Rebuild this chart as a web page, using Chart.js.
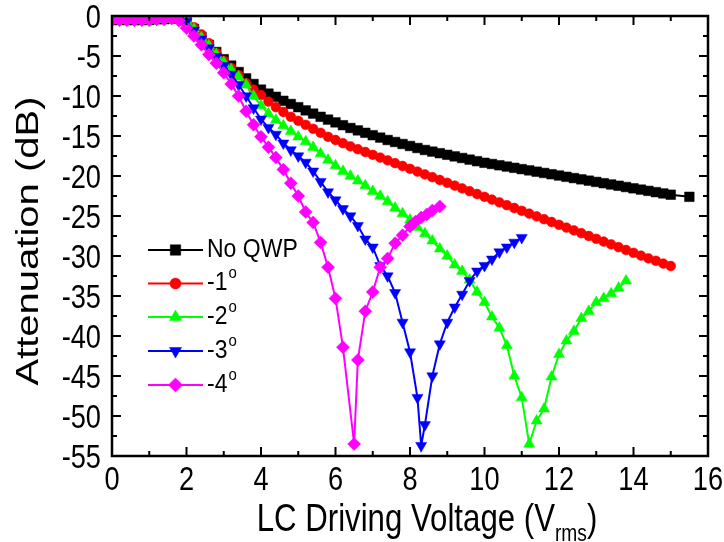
<!DOCTYPE html>
<html><head><meta charset="utf-8">
<script src="https://cdn.jsdelivr.net/npm/chart.js@4.4.1/dist/chart.umd.min.js"></script>
<style>html,body{margin:0;padding:0;background:#fff;}#wrap{width:724px;height:542px;}</style>
</head><body><div id="wrap"><canvas id="c" width="724" height="542"></canvas></div>
<script>
// ---- data ----
const voltage = [0,0.2,0.4,0.6,0.8,1,1.2,1.4,1.6,1.8,2,2.2,2.4,2.6,2.8,3,3.2,3.4,3.6,3.8,4,4.2,4.4,4.6,4.8,5,5.2,5.4,5.6,5.8,6,6.2,6.4,6.6,6.8,7,7.2,7.4,7.6,7.8,8,8.2,8.4,8.6,8.8,9,9.2,9.4,9.6,9.8,10,10.2,10.4,10.6,10.8,11,11.2,11.4,11.6,11.8,12,12.2,12.4,12.6,12.8,13,13.2,13.4,13.6,13.8,14,14.2,14.4,14.6,14.8,15];

const seriesNames = ['No QWP', '-1°', '-2°', '-3°', '-4°'];

const xNoQWP = [...voltage, 15.5];
const yNoQWP = [-0.5,-0.5,-0.5,-0.5,-0.5,-0.5,-0.4,-0.4,-0.3,-0.3,
 -0.6,-1.6,-2.6,-3.6,-4.5,-5.4,-6.2,-7.0,-7.8,-8.5,
 -9.2,-9.7,-10.1,-10.6,-11.0,-11.4,-11.8,-12.2,-12.6,-12.95,
 -13.3,-13.65,-14.0,-14.3,-14.6,-14.9,-15.2,-15.5,-15.75,-16.0,
 -16.25,-16.5,-16.75,-16.95,-17.15,-17.35,-17.55,-17.75,-17.95,-18.15,
 -18.35,-18.5,-18.66,-18.82,-18.98,-19.14,-19.3,-19.46,-19.62,-19.78,
 -19.94,-20.1,-20.26,-20.42,-20.58,-20.74,-20.9,-21.06,-21.22,-21.38,
 -21.54,-21.7,-21.86,-22.02,-22.18,-22.34,
 -22.6];

const xMinus1 = voltage;
const yMinus1 = [-0.5,-0.5,-0.5,-0.5,-0.5,-0.5,-0.4,-0.4,-0.3,-0.3,
 -0.5,-1.4,-2.3,-3.4,-4.6,-5.6,-6.5,-7.4,-8.4,-9.2,
 -9.9,-10.7,-11.4,-12.0,-12.6,-13.1,-13.6,-14.1,-14.6,-15.1,
 -15.5,-15.9,-16.3,-16.65,-17.0,-17.35,-17.7,-18.05,-18.4,-18.75,
 -19.1,-19.45,-19.8,-20.15,-20.5,-20.85,-21.2,-21.55,-21.9,-22.25,
 -22.6,-22.95,-23.3,-23.65,-24.0,-24.35,-24.7,-25.05,-25.4,-25.75,
 -26.1,-26.45,-26.8,-27.15,-27.5,-27.85,-28.2,-28.55,-28.9,-29.25,
 -29.6,-29.95,-30.3,-30.6,-30.95,-31.25];

const xMinus2 = voltage.slice(0, 70);
const yMinus2 = [-0.5,-0.5,-0.5,-0.5,-0.5,-0.5,-0.4,-0.4,-0.3,-0.3,
 -0.5,-1.6,-2.7,-3.7,-4.8,-5.8,-6.7,-7.6,-8.6,-10.0,
 -11.2,-12.2,-13.0,-13.7,-14.4,-15.1,-15.7,-16.4,-17.2,-18.0,
 -18.7,-19.4,-20.0,-20.6,-21.2,-21.9,-22.5,-23.2,-24.0,-24.7,
 -25.5,-26.4,-27.2,-28.1,-29.1,-30.0,-31.1,-31.9,-33.0,-34.5,
 -35.8,-37.6,-39.0,-41.2,-45.0,-47.7,-53.5,-50.6,-49.1,-45.1,
 -42.3,-40.6,-39.4,-37.8,-36.9,-35.8,-35.3,-34.7,-34.0,-33.1];

const xMinus3 = [...voltage.slice(0, 42), 8.3, ...voltage.slice(42, 56)];
const yMinus3 = [-0.5,-0.5,-0.5,-0.5,-0.5,-0.5,-0.4,-0.4,-0.3,-0.3,
 -0.7,-1.8,-2.9,-4.0,-5.1,-6.2,-7.3,-8.6,-10.0,-11.5,
 -12.9,-13.95,-14.8,-15.9,-16.75,-17.5,-18.3,-19.4,-20.7,-22.0,
 -23.0,-24.1,-25.0,-26.2,-27.9,-28.9,-31.2,-32.5,-34.6,-38.3,
 -42.0,-47.7,
 -53.7,
 -51.1,-45.0,-41.0,-38.3,-36.4,-34.8,-33.1,-31.9,-31.2,-30.4,-29.5,-28.9,-28.3,-27.7];

const xMinus4 = [...voltage.slice(0, 32), 6.5,6.6,6.8,7.0,7.2,7.4,7.6,7.8,8.0,8.15,8.3,8.45,8.6,8.8];
const yMinus4 = [-0.5,-0.5,-0.5,-0.5,-0.5,-0.5,-0.4,-0.4,-0.3,-0.6,
 -1.5,-2.5,-3.6,-4.8,-5.9,-7.1,-8.5,-10.0,-11.9,-13.6,
 -15.1,-16.4,-17.7,-19.2,-20.9,-22.5,-24.5,-25.8,-28.3,-31.4,
 -35.3,-41.4,
 -53.5,-43.0,-36.9,-34.5,-31.4,-30.3,-28.4,-27.4,-26.3,-25.7,-25.2,-24.8,-24.3,-23.8];

const xMajorTicks = [0,2,4,6,8,10,12,14,16];
const xMinorTicks = [1,3,5,7,9,11,13,15];
const yMajorTicks = [0,-5,-10,-15,-20,-25,-30,-35,-40,-45,-50,-55];
const yMinorTicks = [-2.5,-7.5,-12.5,-17.5,-22.5,-27.5,-32.5,-37.5,-42.5,-47.5,-52.5];

const xTitle = ['LC Driving Voltage (V', 'rms', ')'];
const yTitle = 'Attenuation (dB)';

// ---- styling ----
const FAM = "'Liberation Sans', Arial, Helvetica, sans-serif";
const colors = ['#000000', '#ff0000', '#00ff00', '#0000ff', '#ff00ff'];
const styles = [
  {pointStyle: 'rect', radius: 6.8, rotation: 0},
  {pointStyle: 'circle', radius: 4.9, rotation: 0},
  {pointStyle: 'triangle', radius: 6.4, rotation: 0},
  {pointStyle: 'triangle', radius: 6.4, rotation: 180},
  {pointStyle: 'rectRot', radius: 6.5, rotation: 0}
];
const xs = [xNoQWP, xMinus1, xMinus2, xMinus3, xMinus4];
const ys = [yNoQWP, yMinus1, yMinus2, yMinus3, yMinus4];

const datasets = seriesNames.map((name, i) => ({
  label: name,
  data: xs[i].map((x, k) => ({x: x, y: ys[i][k]})),
  showLine: true,
  borderColor: colors[i],
  backgroundColor: colors[i],
  borderWidth: 2,
  pointStyle: styles[i].pointStyle,
  pointRadius: styles[i].radius,
  pointRotation: styles[i].rotation,
  pointBorderWidth: 0.5,
  pointBorderColor: colors[i],
  pointBackgroundColor: colors[i],
  tension: 0,
  order: 5 - i
}));

// condensed text helper (the figure's lettering is narrow)
function condText(ctx, txt, x, y, size, sx, align, baseline) {
  ctx.save();
  ctx.translate(x, y);
  ctx.scale(sx, 1);
  ctx.font = size + 'px ' + FAM;
  ctx.textAlign = align;
  ctx.textBaseline = baseline;
  ctx.fillText(txt, 0, 0);
  ctx.restore();
}

const frameTicks = {
  id: 'frameTicks',
  afterDatasetsDraw(chart) {
    const {ctx, chartArea: a, scales: {x, y}} = chart;
    ctx.save();
    ctx.strokeStyle = '#000';
    ctx.lineWidth = 2.5;
    ctx.strokeRect(a.left, a.top, a.right - a.left, a.bottom - a.top);
    ctx.lineWidth = 2;
    ctx.beginPath();
    const vt = (vals, len) => vals.forEach(v => {
      const p = x.getPixelForValue(v);
      ctx.moveTo(p, a.bottom); ctx.lineTo(p, a.bottom - len);
      ctx.moveTo(p, a.top); ctx.lineTo(p, a.top + len);
    });
    const ht = (vals, len) => vals.forEach(v => {
      const p = y.getPixelForValue(v);
      ctx.moveTo(a.left, p); ctx.lineTo(a.left + len, p);
      ctx.moveTo(a.right, p); ctx.lineTo(a.right - len, p);
    });
    vt(xMajorTicks, 9); vt(xMinorTicks, 5);
    ht(yMajorTicks, 9); ht(yMinorTicks, 5);
    ctx.stroke();

    // tick labels, placed through the scales
    ctx.fillStyle = '#000';
    const TS = 34, TX = 0.8;
    xMajorTicks.forEach(v => condText(ctx, String(v), x.getPixelForValue(v), a.bottom + 34, TS, TX, 'center', 'alphabetic'));
    yMajorTicks.forEach(v => condText(ctx, String(v), a.left - 11, y.getPixelForValue(v) + 12, TS, TX, 'right', 'alphabetic'));
    ctx.restore();
  }
};

const textPlugin = {
  id: 'textPlugin',
  afterDraw(chart) {
    const {ctx, chartArea: a} = chart;
    ctx.save();
    ctx.fillStyle = '#000';
    // x title with subscript
    const fMain = 39, fSub = 24, SX = 0.8;
    ctx.font = fMain + 'px ' + FAM;
    const w1 = ctx.measureText(xTitle[0]).width * SX;
    const w3 = ctx.measureText(xTitle[2]).width * SX;
    ctx.font = fSub + 'px ' + FAM;
    const w2 = ctx.measureText(xTitle[1]).width * SX;
    const cx = 427, base = 531;
    const x0 = cx - (w1 + w2 + w3) / 2;
    condText(ctx, xTitle[0], x0, base, fMain, SX, 'left', 'alphabetic');
    condText(ctx, xTitle[1], x0 + w1, base + 10, fSub, SX, 'left', 'alphabetic');
    condText(ctx, xTitle[2], x0 + w1 + w2, base, fMain, SX, 'left', 'alphabetic');
    // y title (rotated, condensed across the text)
    ctx.save();
    ctx.translate(29, 241);
    ctx.rotate(-Math.PI / 2);
    ctx.scale(1, SX);
    ctx.textAlign = 'center';
    ctx.textBaseline = 'middle';
    ctx.font = '40px ' + FAM;
    ctx.fillText(yTitle, 0, 0);
    ctx.restore();

    // legend
    const rows = [250, 283.5, 317, 351, 385];
    const lx0 = 148, lx1 = 203, mx = 175.5, tx = 207;
    chart.data.datasets.forEach((ds, i) => {
      const ry = rows[i];
      ctx.strokeStyle = ds.borderColor;
      ctx.lineWidth = 2;
      ctx.beginPath(); ctx.moveTo(lx0, ry); ctx.lineTo(lx1, ry); ctx.stroke();
      ctx.fillStyle = ds.backgroundColor;
      ctx.strokeStyle = ds.borderColor;
      ctx.lineWidth = 0.5;
      Chart.helpers.drawPoint(ctx, {pointStyle: ds.pointStyle, rotation: ds.pointRotation, radius: ds.pointRadius + 0.6, borderWidth: 0.5}, mx, ry);
      ctx.fillStyle = '#000';
      const label = ds.label;
      if (label.endsWith('°')) {
        const b = label.slice(0, -1);
        ctx.save();
        ctx.translate(tx, ry); ctx.scale(1, 1.1);
        ctx.font = '23px ' + FAM; ctx.textAlign = 'left'; ctx.textBaseline = 'middle';
        ctx.fillText(b, 0, 0);
        const bw = ctx.measureText(b).width;
        ctx.font = '15px ' + FAM;
        ctx.fillText('o', bw + 1, -9);
        ctx.restore();
      } else {
        ctx.save();
        ctx.translate(tx, ry); ctx.scale(1, 1.1);
        ctx.font = '23px ' + FAM; ctx.textAlign = 'left'; ctx.textBaseline = 'middle';
        ctx.fillText(label, 0, 0);
        ctx.restore();
      }
    });
    ctx.restore();
  }
};

new Chart(document.getElementById('c'), {
  type: 'scatter',
  data: {datasets},
  options: {
    responsive: false,
    animation: false,
    devicePixelRatio: 1,
    layout: {padding: {left: 0, right: 16, top: 16, bottom: 0}},
    plugins: {legend: {display: false}, tooltip: {enabled: false}},
    scales: {
      x: {
        type: 'linear', min: 0, max: 16,
        afterBuildTicks: s => { s.ticks = xMajorTicks.map(v => ({value: v})); },
        ticks: {display: false},
        grid: {display: false, drawTicks: false},
        border: {display: false},
        afterFit: s => { s.height = 86; s.paddingLeft = 0; s.paddingRight = 0; }
      },
      y: {
        type: 'linear', min: -55, max: 0,
        afterBuildTicks: s => { s.ticks = yMajorTicks.slice().reverse().map(v => ({value: v})); },
        ticks: {display: false},
        grid: {display: false, drawTicks: false},
        border: {display: false},
        afterFit: s => { s.width = 112; s.paddingTop = 0; s.paddingBottom = 0; }
      }
    }
  },
  plugins: [frameTicks, textPlugin]
});
</script>
</body></html>
